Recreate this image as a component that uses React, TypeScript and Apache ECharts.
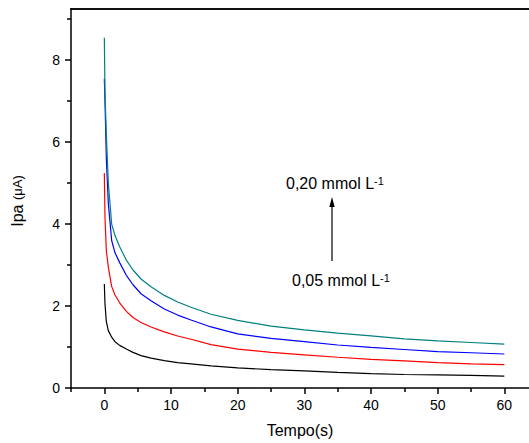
import React, { useEffect, useRef } from "react";
import * as echarts from "echarts";

// Time (s)
const times = [0, 0.1, 0.3, 0.6, 1.1, 1.6, 2.3, 3.3, 4.3, 5.5, 7, 9, 11, 13, 16, 20, 25, 30, 35, 40, 45, 50, 55, 60];
// Ipa (µA) for each concentration
const ipa005 = [2.54, 2.05, 1.62, 1.4, 1.24, 1.13, 1.04, 0.95, 0.87, 0.79, 0.73, 0.67, 0.62, 0.59, 0.54, 0.49, 0.45, 0.42, 0.38, 0.35, 0.33, 0.32, 0.31, 0.29];
const ipa010 = [5.25, 4.15, 3.35, 2.95, 2.48, 2.27, 2.08, 1.87, 1.72, 1.6, 1.49, 1.37, 1.27, 1.19, 1.06, 0.95, 0.87, 0.81, 0.75, 0.7, 0.66, 0.62, 0.59, 0.57];
const ipa015 = [7.55, 7.0, 5.6, 4.5, 3.6, 3.3, 3.06, 2.75, 2.52, 2.3, 2.13, 1.93, 1.78, 1.66, 1.49, 1.32, 1.21, 1.13, 1.05, 0.99, 0.94, 0.89, 0.86, 0.83];
const ipa020 = [8.55, 7.2, 6.2, 5.0, 4.0, 3.72, 3.45, 3.12, 2.88, 2.66, 2.47, 2.26, 2.1, 1.97, 1.8, 1.65, 1.51, 1.42, 1.34, 1.27, 1.2, 1.15, 1.11, 1.07];

const xMajorTicks = [0, 10, 20, 30, 40, 50, 60];
const xMinorTicks = [-5, 5, 15, 25, 35, 45, 55];
const yMajorTicks = [0, 2, 4, 6, 8];
const yMinorTicks = [1, 3, 5, 7, 9];

const FONT = "Liberation Sans, Arial, sans-serif";

export default function App() {
  const ref = useRef<HTMLDivElement>(null);
  useEffect(() => {
    if (!ref.current) return;
    const chart = echarts.init(ref.current, undefined, { renderer: "svg" });
    const mk = (vals: number[], color: string) => ({
      type: "line",
      xAxisIndex: 0,
      yAxisIndex: 0,
      data: times.map((t, i) => [t, vals[i]]),
      showSymbol: false,
      symbol: "none",
      lineStyle: { color, width: 1.2 },
      itemStyle: { color },
    });
    const axisLineStyle = { color: "#000", width: 1.5 };
    const X_MIN = -5;
    const X_MAX = 63.7;
    chart.setOption({
      animation: false,
      backgroundColor: "#fff",
      grid: {
        left: 71,
        top: 9,
        bottom: 55,
        right: 0,
        show: false,
        containLabel: false,
      },
      xAxis: [
        {
          type: "value",
          position: "bottom",
          min: X_MIN,
          max: X_MAX,
          axisLine: { show: true, onZero: false, lineStyle: axisLineStyle },
          axisTick: { show: true, inside: false, length: 6, customValues: xMajorTicks, lineStyle: axisLineStyle },
          axisLabel: { customValues: xMajorTicks, margin: 10, color: "#000", fontSize: 14, fontFamily: FONT },
          splitLine: { show: false },
          name: "Tempo(s)",
          nameLocation: "middle",
          nameGap: 34,
          nameTextStyle: { fontSize: 16, color: "#000", fontFamily: FONT },
        },
        {
          type: "value",
          position: "bottom",
          min: X_MIN,
          max: X_MAX,
          axisLine: { show: false, onZero: false },
          axisTick: { show: true, inside: false, length: 4, customValues: xMinorTicks, lineStyle: axisLineStyle },
          axisLabel: { show: false },
          splitLine: { show: false },
        },
        {
          type: "value",
          position: "top",
          min: X_MIN,
          max: X_MAX,
          axisLine: { show: true, onZero: false, lineStyle: axisLineStyle },
          axisTick: { show: false },
          axisLabel: { show: false },
          splitLine: { show: false },
        },
      ],
      yAxis: [
        {
          type: "value",
          position: "left",
          min: 0,
          max: 9.25,
          axisLine: { show: true, onZero: false, lineStyle: axisLineStyle },
          axisTick: { show: true, inside: false, length: 6, customValues: yMajorTicks, lineStyle: axisLineStyle },
          axisLabel: { customValues: yMajorTicks, margin: 11, color: "#000", fontSize: 14, fontFamily: FONT },
          splitLine: { show: false },
        },
        {
          type: "value",
          position: "left",
          min: 0,
          max: 9.25,
          axisLine: { show: false, onZero: false },
          axisTick: { show: true, inside: false, length: 4, customValues: yMinorTicks, lineStyle: axisLineStyle },
          axisLabel: { show: false },
          splitLine: { show: false },
        },
      ],
      series: [
        mk(ipa005, "#000000"),
        mk(ipa010, "#ff0000"),
        mk(ipa015, "#0000ff"),
        mk(ipa020, "#008080"),
      ],
      graphic: [
        {
          type: "rect",
          shape: { x: 70.25, y: 8.25, width: 459, height: 1.5 },
          style: { fill: "#000" },
        },
        {
          type: "text",
          x: 17,
          y: 201,
          rotation: Math.PI / 2,
          style: {
            text: "{a|Ipa }{b|(μA)}",
            align: "center",
            verticalAlign: "middle",
            fill: "#000",
            rich: {
              a: { fontSize: 16, fontFamily: FONT, fill: "#000" },
              b: { fontSize: 13, fontFamily: FONT, fill: "#000" },
            },
          },
        },
        {
          type: "text",
          x: 286,
          y: 183.5,
          style: {
            text: "{m|0,20 mmol L}{s|-1}",
            align: "left",
            verticalAlign: "middle",
            fill: "#000",
            rich: {
              m: { fontSize: 16, fontFamily: FONT, fill: "#000" },
              s: { fontSize: 11, fontFamily: FONT, fill: "#000", verticalAlign: "top" },
            },
          },
        },
        {
          type: "text",
          x: 292,
          y: 280.5,
          style: {
            text: "{m|0,05 mmol L}{s|-1}",
            align: "left",
            verticalAlign: "middle",
            fill: "#000",
            rich: {
              m: { fontSize: 16, fontFamily: FONT, fill: "#000" },
              s: { fontSize: 11, fontFamily: FONT, fill: "#000", verticalAlign: "top" },
            },
          },
        },
        {
          type: "line",
          shape: { x1: 332, y1: 261, x2: 332, y2: 205 },
          style: { stroke: "#000", lineWidth: 1.2 },
        },
        {
          type: "polygon",
          shape: { points: [[332, 197], [329.3, 207], [334.7, 207]] },
          style: { fill: "#000" },
        },
      ],
    });
    return () => chart.dispose();
  }, []);
  return (
    <div
      ref={ref}
      style={{ position: "fixed", left: 0, top: 0, width: 529, height: 443, background: "#fff" }}
    />
  );
}
